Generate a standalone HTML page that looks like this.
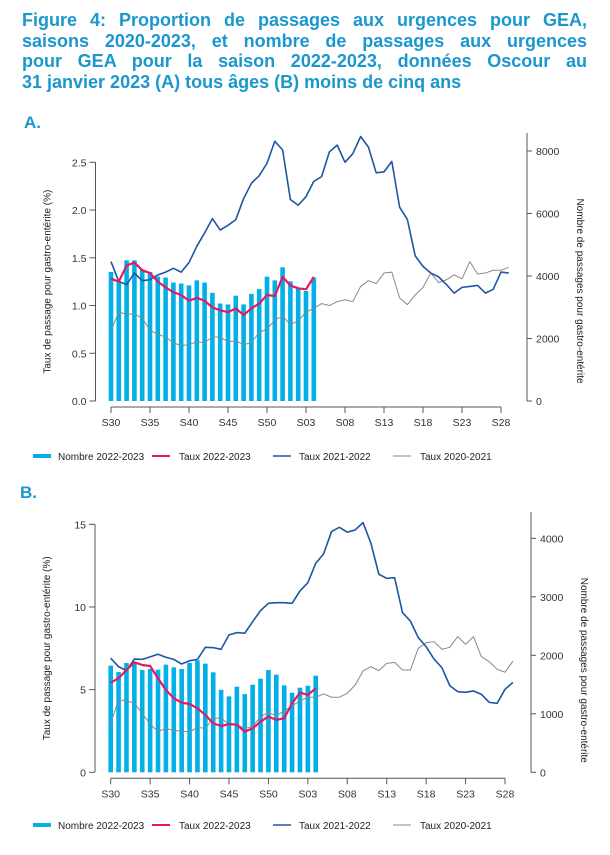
<!DOCTYPE html>
<html><head><meta charset="utf-8"><style>
body{margin:0;width:610px;height:855px;background:#fff;overflow:hidden;font-family:"Liberation Sans",Arial,sans-serif}
#title{position:absolute;left:22px;top:10px;width:565px;font-weight:bold;font-size:18px;line-height:20.5px;color:#1a97cf}
#title div{text-align:justify;text-align-last:justify;white-space:nowrap}
#title div.last{text-align-last:left}
svg{position:absolute;left:0;top:0}
</style></head><body>
<div id="title"><div>Figure 4: Proportion de passages aux urgences pour GEA,</div><div>saisons 2020-2023, et nombre de passages aux urgences</div><div>pour GEA pour la saison 2022-2023, données Oscour au</div><div class="last">31 janvier 2023 (A) tous âges (B) moins de cinq ans</div></div>
<svg id="svg" width="610" height="855"></svg>
<script>
const weekLabels=["S30","S35","S40","S45","S50","S03","S08","S13","S18","S23","S28"];
const A_leftTicks=[0,0.5,1,1.5,2,2.5];
const A_rightTicks=[0,2000,4000,6000,8000];
const A_bars=[4130,3830,4500,4500,4190,4130,3980,3950,3790,3760,3700,3860,3790,3460,3120,3090,3370,3090,3430,3580,3980,3860,4280,3830,3610,3520,3950];
const A_rate2223=[1.28,1.25,1.42,1.45,1.37,1.34,1.25,1.19,1.14,1.11,1.05,1.08,1.05,0.98,0.95,0.93,0.97,0.90,0.97,1.02,1.11,1.10,1.30,1.21,1.18,1.17,1.30];
const A_rate2122=[1.46,1.25,1.22,1.34,1.26,1.27,1.32,1.35,1.39,1.35,1.45,1.62,1.76,1.91,1.79,1.84,1.90,2.12,2.28,2.36,2.49,2.72,2.63,2.11,2.05,2.14,2.30,2.35,2.61,2.68,2.50,2.59,2.77,2.66,2.39,2.40,2.51,2.03,1.90,1.52,1.41,1.34,1.30,1.22,1.13,1.19,1.20,1.21,1.13,1.17,1.35,1.34];
const A_rate2021=[0.74,0.93,0.91,0.91,0.87,0.74,0.70,0.67,0.61,0.58,0.59,0.62,0.61,0.67,0.67,0.62,0.63,0.59,0.61,0.72,0.75,0.85,0.89,0.80,0.84,0.93,0.97,1.02,1.00,1.04,1.06,1.04,1.20,1.26,1.23,1.34,1.35,1.08,1.01,1.11,1.19,1.34,1.24,1.27,1.32,1.28,1.46,1.33,1.34,1.37,1.37,1.40];
const B_leftTicks=[0,5,10,15];
const B_rightTicks=[0,1000,2000,3000,4000];
const B_bars=[1823,1714,1869,1880,1749,1766,1754,1840,1794,1766,1869,1914,1857,1709,1411,1297,1463,1337,1497,1600,1749,1669,1486,1360,1446,1480,1651];
const B_rate2223=[5.42,5.69,6.19,6.65,6.49,6.43,5.69,4.98,4.48,4.21,4.13,3.87,3.47,2.96,2.80,2.92,2.88,2.46,2.66,3.06,3.37,3.17,3.27,4.17,4.82,4.68,5.08];
const B_rate2122=[6.90,6.39,6.15,6.85,6.83,6.98,7.14,6.96,6.83,6.55,6.75,6.83,7.56,7.54,7.44,8.31,8.45,8.41,9.11,9.78,10.22,10.26,10.26,10.22,10.97,11.47,12.64,13.21,14.56,14.82,14.52,14.66,15.10,13.85,11.98,11.73,11.77,9.66,9.15,8.15,7.60,6.85,6.33,5.24,4.88,4.84,4.92,4.72,4.23,4.17,5.02,5.44];
const B_rate2021=[2.96,4.38,4.33,4.17,3.57,2.92,2.46,2.66,2.52,2.50,2.42,2.72,2.66,3.27,3.27,2.92,2.86,2.66,2.76,3.37,3.61,3.43,3.71,4.01,4.33,4.54,4.54,4.74,4.54,4.54,4.78,5.28,6.13,6.39,6.15,6.59,6.65,6.19,6.19,7.50,7.84,7.90,7.44,7.56,8.21,7.74,8.21,7.00,6.69,6.23,6.05,6.73];

const NS="http://www.w3.org/2000/svg";
const svg=document.getElementById('svg');
function mk(tag,attrs,parent,text){const e=document.createElementNS(NS,tag);for(const k in attrs)e.setAttribute(k,attrs[k]);if(text!==undefined)e.textContent=text;(parent||svg).appendChild(e);return e;}

function drawChart(c){
  const g=mk('g',{});
  
  
  const x=i=>c.x0+(c.x1-c.x0)*i/50;
  const yl=v=>c.yBot-(c.yBot-c.yTopL)*v/c.lMax;
  const yr=v=>c.yBot-(c.yBot-c.yTopR)*v/c.rMax;
  const lab=mk('text',{x:c.labX,y:c.labY,'font-size':17,'font-weight':'bold',fill:'#1a97cf'},g,c.label);
  
  
  const la=mk('g',{},g);
  
  
  mk('line',{x1:c.axL,x2:c.axL,y1:yl(c.lTicks[c.lTicks.length-1]),y2:c.yBot,stroke:'#555'},la);
  c.lTicks.forEach(t=>{mk('line',{x1:c.axL-6,x2:c.axL,y1:yl(t),y2:yl(t),stroke:'#555'},la);
    mk('text',{x:c.axL-9,y:yl(t)+4,'font-size':10.5,'text-anchor':'end',fill:'#333'},la,c.lFmt(t));});
  const lt=mk('text',{transform:`translate(${c.axL-45},${(c.yBot+c.yTopL)/2}) rotate(-90)`,'font-size':10,'text-anchor':'middle',fill:'#222'},g,'Taux de passage pour gastro-entérite (%)');
  
  
  const ra=mk('g',{},g);
  
  
  mk('line',{x1:c.axR,x2:c.axR,y1:c.rTop,y2:c.yBot,stroke:'#555'},ra);
  c.rTicks.forEach(t=>{mk('line',{x1:c.axR,x2:c.axR+5,y1:yr(t),y2:yr(t),stroke:'#555'},ra);
    mk('text',{x:c.axR+9,y:yr(t)+4,'font-size':10.5,fill:'#333'},ra,t);});
  const rt=mk('text',{transform:`translate(${c.axR+50},${(c.yBot+c.yTopR)/2+15}) rotate(90)`,'font-size':10,'text-anchor':'middle',fill:'#222'},g,'Nombre de passages pour gastro-entérite');
  
  
  const xa=mk('g',{},g);
  
  
  mk('line',{x1:x(0),x2:x(50),y1:c.yBot+6,y2:c.yBot+6,stroke:'#555'},xa);
  weekLabels.forEach((w,k)=>{const xx=x(k*5);mk('line',{x1:xx,x2:xx,y1:c.yBot+6,y2:c.yBot+12,stroke:'#555'},xa);
    mk('text',{x:xx,y:c.yBot+25,'font-size':10.5,'text-anchor':'middle',fill:'#333'},xa,w);});
  const bg=mk('g',{},g);
  
  
  c.bars.forEach((v,i)=>{const b=mk('rect',{x:x(i)-2.3,y:yr(v),width:4.6,height:c.yBot-yr(v),fill:'#00b0e6'},bg);
    
    });
  const line=(arr,col,w,name)=>{const p=mk('polyline',{points:arr.map((v,i)=>x(i)+','+yl(v)).join(' '),fill:'none',stroke:col,'stroke-width':w,'stroke-linejoin':'round'},g);
    
    };
  line(c.r2021,'#888',1,c.id+'-line-taux-2020-2021');
  line(c.r2122,'#1f55a5',1.6,c.id+'-line-taux-2021-2022');
  line(c.r2223,'#e8185f',2.2,c.id+'-line-taux-2022-2023');
  const lg=mk('g',{},g);
  
  
  const items=[[33,58,'#00b0e6',4,'Nombre 2022-2023'],[152,179,'#e8185f',2,'Taux 2022-2023'],[273,299,'#1f55a5',1.5,'Taux 2021-2022'],[393,420,'#888',1,'Taux 2020-2021']];
  items.forEach(it=>{const e=mk('g',{},lg);
    
    
    mk('line',{x1:it[0],x2:it[0]+18,y1:c.legY,y2:c.legY,stroke:it[2],'stroke-width':it[3]},e);
    mk('text',{x:it[1],y:c.legY+4,'font-size':10,fill:'#222'},e,it[4]);});
}
drawChart({id:'a',label:'A.',labX:24,labY:128,x0:111,x1:501,axL:95.5,axR:527,yBot:401,yTopL:162.3,lMax:2.5,yTopR:151,rMax:8000,rTop:133,
  lTicks:A_leftTicks,rTicks:A_rightTicks,lFmt:t=>t.toFixed(1),bars:A_bars,r2223:A_rate2223,r2122:A_rate2122,r2021:A_rate2021,legY:456});
drawChart({id:'b',label:'B.',labX:20,labY:498,x0:110.7,x1:505,axL:95,axR:531,yBot:772.3,yTopL:524.3,lMax:15,yTopR:538.3,rMax:4000,rTop:512,
  lTicks:B_leftTicks,rTicks:B_rightTicks,lFmt:t=>t,bars:B_bars,r2223:B_rate2223,r2122:B_rate2122,r2021:B_rate2021,legY:825});
</script>
</body></html>
